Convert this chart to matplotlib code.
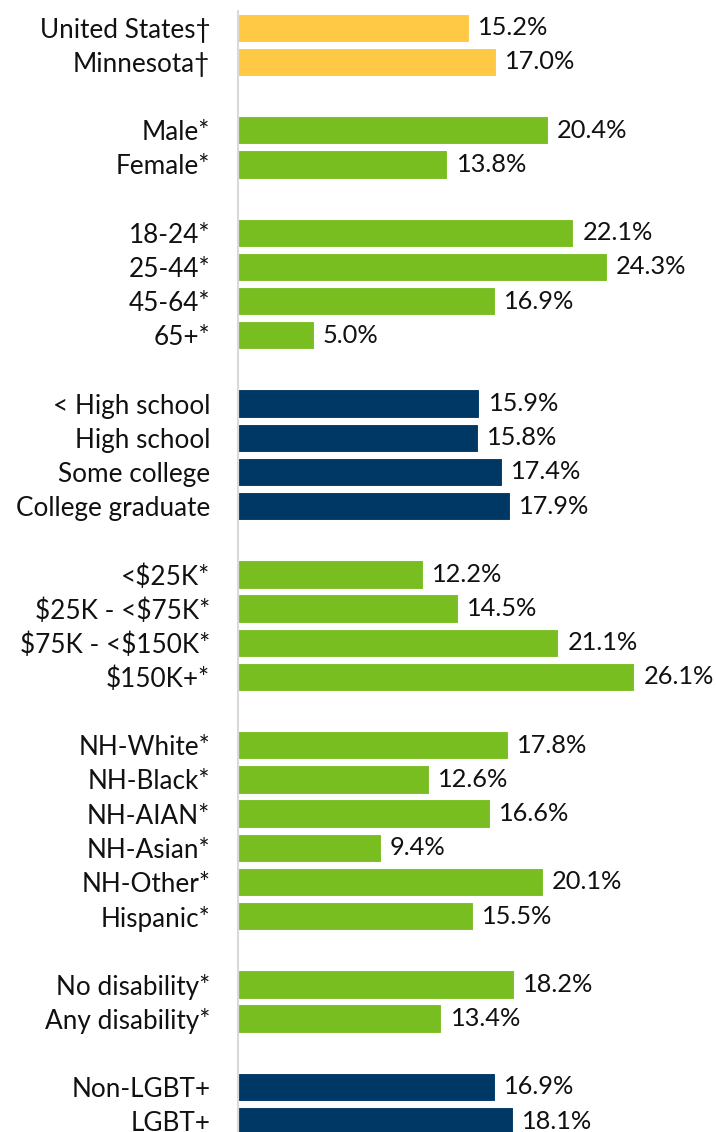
import matplotlib
matplotlib.use("Agg")
import matplotlib.pyplot as plt

plt.rcParams['font.family'] = ['Lato', 'DejaVu Sans']
plt.rcParams['text.parse_math'] = False

# Groups of categories with their percentages
overall_labels = ["United States\u2020", "Minnesota\u2020"]
overall_values = [15.2, 17.0]

sex_labels = ["Male*", "Female*"]
sex_values = [20.4, 13.8]

age_labels = ["18-24*", "25-44*", "45-64*", "65+*"]
age_values = [22.1, 24.3, 16.9, 5.0]

edu_labels = ["< High school", "High school", "Some college", "College graduate"]
edu_values = [15.9, 15.8, 17.4, 17.9]

income_labels = ["<$25K*", "$25K - <$75K*", "$75K - <$150K*", "$150K+*"]
income_values = [12.2, 14.5, 21.1, 26.1]

race_labels = ["NH-White*", "NH-Black*", "NH-AIAN*", "NH-Asian*", "NH-Other*", "Hispanic*"]
race_values = [17.8, 12.6, 16.6, 9.4, 20.1, 15.5]

dis_labels = ["No disability*", "Any disability*"]
dis_values = [18.2, 13.4]

lgbt_labels = ["Non-LGBT+", "LGBT+"]
lgbt_values = [16.9, 18.1]

YELLOW = "#FFC845"
GREEN = "#78BE21"
NAVY = "#003865"

groups = [
    (overall_labels, overall_values, YELLOW),
    (sex_labels, sex_values, GREEN),
    (age_labels, age_values, GREEN),
    (edu_labels, edu_values, NAVY),
    (income_labels, income_values, GREEN),
    (race_labels, race_values, GREEN),
    (dis_labels, dis_values, GREEN),
    (lgbt_labels, lgbt_values, NAVY),
]

# Lay out rows, leaving one blank row between groups
positions, labels, values, colors = [], [], [], []
row = 0
for g_labels, g_values, g_color in groups:
    for lab, val in zip(g_labels, g_values):
        positions.append(row)
        labels.append(lab)
        values.append(val)
        colors.append(g_color)
        row += 1
    row += 1
n_rows = row - 1

W, H = 716, 1132
fig = plt.figure(figsize=(W / 100, H / 100), dpi=100)
left_px, top_px = 238, 10.6
pitch = 34.17
bottom_px = top_px + n_rows * pitch
ax = fig.add_axes([left_px / W, 1 - bottom_px / H, (W - left_px) / W, (bottom_px - top_px) / H])

ax.barh(positions, values, height=0.83, color=colors, edgecolor="white", linewidth=0.8)

for y, v in zip(positions, values):
    ax.text(v + 0.6, y, f"{v:.1f}%", va="center", ha="left", fontsize=18.3, color="#111111")

ax.set_ylim(n_rows - 0.5, -0.5)
ax.set_xlim(0, (W - left_px) / 15.18)
ax.set_yticks(positions)
ax.set_yticklabels(labels, fontsize=18.8, color="#111111")
ax.tick_params(axis="y", length=0, pad=20)
ax.set_xticks([])
for side in ["top", "right", "bottom"]:
    ax.spines[side].set_visible(False)
ax.spines["left"].set_color("#D9D9D9")
ax.spines["left"].set_linewidth(1.5)

fig.savefig("out.png", dpi=100)
